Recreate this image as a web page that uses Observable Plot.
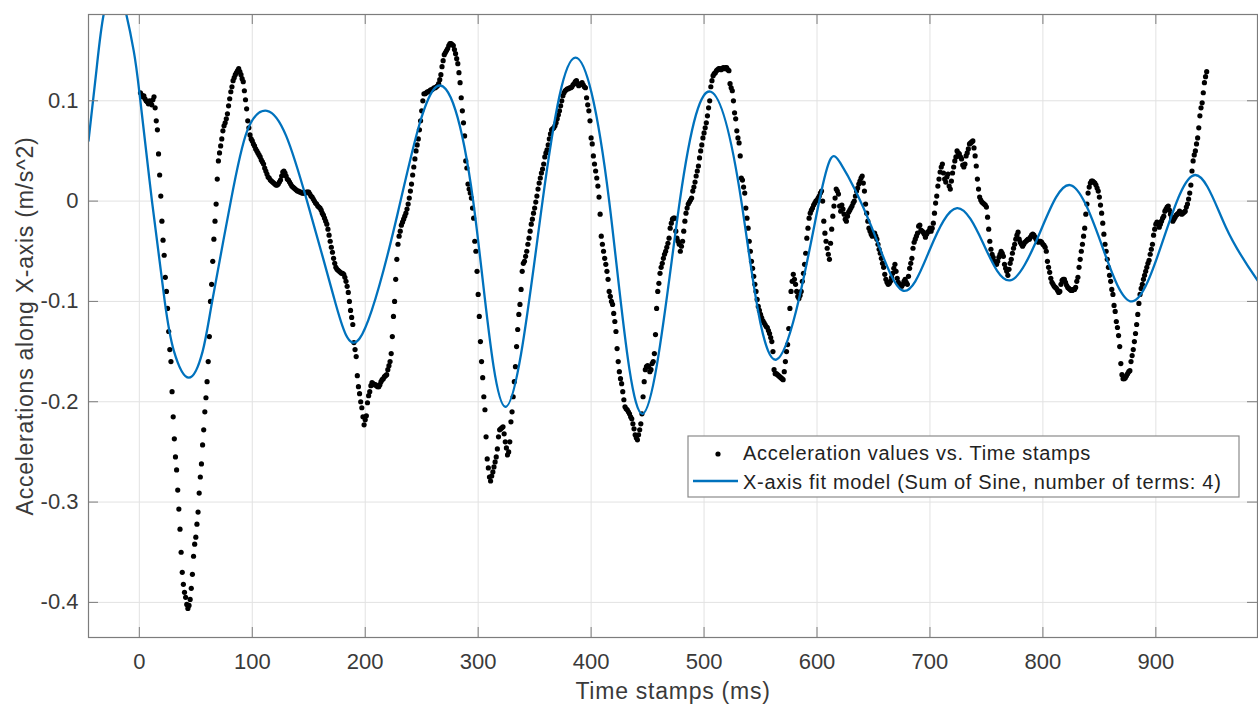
<!DOCTYPE html>
<html><head><meta charset="utf-8">
<script src="https://cdn.jsdelivr.net/npm/d3@7"></script>
<script src="https://cdn.jsdelivr.net/npm/@observablehq/plot@0.6"></script>
<style>body{margin:0;background:#fff;}#chart svg{display:block;}</style>
</head><body><div id="chart"></div>
<script>
// Sample grid: one accelerometer sample per millisecond, starting at t = 1 ms
const timeStart = 1;
const accel = [
.108,.106,.104,.105,.102,.100,.099,.097,.100,.098,
.096,.101,.104,.093,.080,.071,.047,.026,.005,-.020,
-.039,-.054,-.076,-.090,-.107,-.130,-.148,-.160,-.190,-.215,
-.237,-.255,-.268,-.288,-.307,-.327,-.350,-.370,-.382,-.390,
-.395,-.402,-.406,-.403,-.397,-.386,-.372,-.354,-.342,-.335,
-.322,-.310,-.291,-.275,-.262,-.243,-.228,-.210,-.196,-.180,
-.160,-.135,-.100,-.083,-.060,-.038,-.020,-.003,.022,.040,
.048,.055,.062,.070,.075,.078,.082,.087,.095,.102,
.109,.114,.120,.123,.126,.128,.130,.132,.129,.126,
.122,.119,.110,.101,.092,.080,.073,.066,.062,.060,
.057,.055,.052,.050,.048,.046,.044,.041,.039,.037,
.033,.030,.027,.024,.023,.021,.020,.019,.018,.017,
.016,.016,.017,.019,.021,.025,.029,.030,.028,.025,
.022,.021,.019,.017,.015,.014,.013,.012,.011,.010,
.010,.009,.009,.008,.008,.008,.008,.009,.009,.009,
.007,.005,.004,.002,.000,-.002,-.003,-.005,-.006,-.007,
-.009,-.012,-.014,-.017,-.020,-.023,-.028,-.034,-.040,-.046,
-.051,-.057,-.062,-.066,-.068,-.069,-.070,-.071,-.072,-.072,
-.073,-.076,-.080,-.085,-.091,-.100,-.109,-.116,-.123,-.141,
-.148,-.155,-.174,-.185,-.192,-.200,-.206,-.215,-.223,-.218,
-.214,-.201,-.194,-.190,-.184,-.181,-.182,-.183,-.183,-.184,
-.185,-.185,-.183,-.180,-.178,-.177,-.175,-.174,-.173,-.168,
-.164,-.160,-.152,-.135,-.115,-.100,-.078,-.058,-.043,-.035,
-.030,-.024,-.021,-.018,-.015,-.012,-.008,-.003,.003,.010,
.017,.026,.034,.042,.050,.056,.062,.071,.080,.090,
.100,.107,.107,.108,.109,.109,.110,.111,.111,.112,
.113,.113,.114,.115,.117,.121,.126,.134,.140,.146,
.148,.150,.152,.155,.157,.157,.156,.155,.151,.147,
.142,.137,.128,.118,.103,.090,.078,.065,.040,.033,
.017,.012,.008,.003,-.007,-.017,-.040,-.050,-.070,-.093,
-.115,-.140,-.160,-.176,-.195,-.208,-.235,-.257,-.266,-.275,
-.279,-.274,-.270,-.265,-.260,-.255,-.247,-.235,-.228,-.227,
-.226,-.225,-.232,-.240,-.246,-.253,-.250,-.240,-.220,-.210,
-.195,-.180,-.165,-.145,-.128,-.113,-.103,-.088,-.070,-.062,
-.060,-.055,-.050,-.043,-.037,-.030,-.023,-.018,-.012,-.007,
-.001,.005,.012,.018,.023,.028,.032,.037,.044,.048,
.051,.056,.062,.067,.071,.072,.073,.075,.078,.082,
.086,.090,.095,.100,.105,.108,.110,.111,.112,.112,
.113,.113,.114,.116,.117,.119,.120,.117,.115,.116,
.117,.118,.116,.114,.113,.103,.096,.090,.080,.063,
.057,.045,.037,.030,.023,.015,.004,-.013,-.035,-.043,
-.050,-.057,-.063,-.070,-.078,-.090,-.095,-.100,-.103,-.112,
-.120,-.130,-.147,-.160,-.170,-.177,-.182,-.190,-.198,-.205,
-.207,-.208,-.210,-.212,-.215,-.217,-.222,-.227,-.233,-.236,
-.238,-.233,-.228,-.222,-.212,-.195,-.180,-.168,-.165,-.164,
-.165,-.170,-.168,-.162,-.160,-.152,-.133,-.107,-.090,-.082,
-.072,-.066,-.062,-.057,-.053,-.050,-.046,-.042,-.037,-.027,
-.022,-.018,-.017,-.017,-.030,-.037,-.040,-.043,-.050,-.045,
-.040,-.030,-.020,-.012,-.007,-.003,-.001,.001,.003,.010,
.014,.019,.025,.030,.035,.043,.050,.056,.063,.068,
.073,.078,.085,.093,.100,.114,.120,.125,.127,.128,
.130,.131,.132,.132,.131,.132,.133,.132,.133,.133,
.131,.130,.117,.113,.110,.100,.088,.082,.070,.063,
.058,.045,.023,.021,.014,.008,-.007,-.017,-.027,-.040,
-.050,-.060,-.067,-.075,-.083,-.090,-.098,-.105,-.109,-.113,
-.116,-.119,-.121,-.123,-.125,-.126,-.129,-.132,-.136,-.140,
-.150,-.168,-.172,-.172,-.173,-.174,-.175,-.176,-.177,-.178,
-.170,-.160,-.150,-.143,-.127,-.107,-.090,-.080,-.073,-.078,
-.083,-.090,-.095,-.097,-.094,-.090,-.080,-.072,-.063,-.052,
-.037,-.027,-.017,-.012,-.009,-.007,-.004,-.002,.000,.001,
.003,.005,.008,.010,.000,-.020,-.032,-.040,-.047,-.053,
-.058,-.042,-.028,-.015,-.005,.003,.012,.010,.007,-.005,
-.010,-.004,-.008,-.013,-.018,-.020,-.015,-.011,-.009,-.007,
-.005,-.002,.000,.005,.010,.013,.017,.020,.023,.025,
.018,.010,-.003,-.012,-.020,-.027,-.030,-.033,-.035,-.034,
-.032,-.035,-.038,-.043,-.048,-.052,-.057,-.062,-.066,-.073,
-.078,-.081,-.083,-.082,-.080,-.076,-.072,-.067,-.063,-.070,
-.077,-.081,-.083,-.084,-.085,-.083,-.080,-.078,-.081,-.083,
-.075,-.067,-.062,-.057,-.047,-.041,-.038,-.035,-.032,-.025,
-.024,-.029,-.030,-.031,-.033,-.036,-.033,-.031,-.030,-.027,
-.030,-.027,-.022,-.012,-.002,.005,.015,.022,.029,.034,
.037,.028,.022,.019,.024,.027,.015,.012,.020,.028,
.034,.040,.044,.050,.048,.047,.044,.042,.036,.034,
.037,.045,.048,.052,.057,.058,.059,.060,.053,.045,
.035,.022,.012,.004,.001,-.001,-.002,-.003,-.004,-.006,
-.016,-.028,-.040,-.048,-.053,-.056,-.060,-.061,-.063,-.060,
-.056,-.053,-.050,-.052,-.055,-.063,-.067,-.070,-.074,-.068,
-.062,-.058,-.052,-.047,-.043,-.038,-.034,-.031,-.038,-.041,
-.043,-.045,-.043,-.041,-.040,-.039,-.038,-.038,-.036,-.034,
-.033,-.034,-.036,-.038,-.040,-.041,-.040,-.040,-.041,-.043,
-.044,-.046,-.050,-.060,-.066,-.071,-.077,-.081,-.083,-.085,
-.086,-.087,-.089,-.091,-.090,-.083,-.079,-.078,-.078,-.081,
-.084,-.086,-.087,-.088,-.089,-.089,-.088,-.088,-.086,-.080,
-.076,-.066,-.058,-.050,-.043,-.035,-.027,-.013,-.003,.008,
.014,.018,.020,.020,.019,.018,.016,.013,.010,.004,
-.004,-.012,-.022,-.033,-.043,-.050,-.058,-.066,-.074,-.080,
-.088,-.093,-.104,-.110,-.120,-.126,-.134,-.145,-.162,-.173,
-.177,-.177,-.176,-.174,-.172,-.170,-.169,-.160,-.154,-.148,
-.140,-.132,-.123,-.113,-.102,-.093,-.087,-.083,-.078,-.074,
-.070,-.066,-.062,-.059,-.053,-.048,-.043,-.034,-.028,-.023,
-.021,-.022,-.026,-.023,-.020,-.017,-.015,-.010,-.008,-.006,
-.005,-.009,-.013,-.017,-.020,-.018,-.016,-.014,-.013,-.012,
-.010,-.012,-.013,-.012,-.011,-.010,-.006,-.003,.002,.008,
.016,.030,.040,.046,.050,.057,.063,.073,.085,.093,
.098,.108,.118,.124,.129
];
const timeStamps = accel.map((_, i) => timeStart + i);

// Fit model curve (peaks, troughs, crossings)
const fitTime = [-45,-38,-31.6,-21.5,-11.5,-5,0,11.2,22.5,30.5,43.8,56,64.5,81,95.5,113,130,148.5,172,195,229,263,295.6,324,357,386,416,445.6,478.5,506,533,564,602,620.6,648,675.6,700,724,747.5,771,797.5,824,851.5,879,907,934.7,962,990];
const fitAccel = [0.06,0.13,0.186,0.215,0.186,0.15,0.109,0,-0.1,-0.149,-0.176,-0.15,-0.1,0,0.07,0.09,0.065,0,-0.095,-0.137,-0.011,0.114,0,-0.205,0,0.143,0,-0.212,0,0.109,0,-0.158,0,0.038,-0.025,-0.089,-0.048,-0.007,-0.043,-0.079,-0.031,0.016,-0.042,-0.1,-0.037,0.026,-0.026,-0.079];

const xTicks = [0,100,200,300,400,500,600,700,800,900];
const yTicks = [-0.4,-0.3,-0.2,-0.1,0,0.1];
const legendLabels = ["Acceleration values vs. Time stamps", "X-axis fit model (Sum of Sine, number of terms: 4)"];
const xLabel = "Time stamps (ms)";
const yLabel = "Accelerations along X-axis (m/s^2)";

const W = 1258, H = 704, mL = 88, mT = 14, mR = 1, mB = 67;
const fw = W - mL - mR, fh = H - mT - mB;
const FONT = "'Liberation Sans', Arial, Helvetica, sans-serif";
const AX = "#7c7c7c", TXT = "#3a3a3a", BLUE = "#0072BD";

const points = timeStamps.map((t, i) => ({t, a: accel[i]}));
const fit = fitTime.map((t, i) => ({t, a: fitAccel[i]}));

const chart = Plot.plot({
  width: W, height: H,
  marginLeft: mL, marginTop: mT, marginRight: mR, marginBottom: mB,
  style: {fontFamily: FONT, background: "#fff", overflow: "visible"},
  x: {domain: [-45, 990]},
  y: {domain: [-0.435, 0.186]},
  marks: [
    Plot.gridX(xTicks, {stroke: "#e2e2e2", strokeOpacity: 1}),
    Plot.gridY(yTicks, {stroke: "#e2e2e2", strokeOpacity: 1}),
    Plot.dot(points, {x: "t", y: "a", r: 2.6, fill: "#000", stroke: null}),
    Plot.line(fit, {x: "t", y: "a", stroke: BLUE, strokeWidth: 2.3, curve: "natural", clip: true}),
    Plot.frame({stroke: AX, strokeWidth: 1.2}),
    Plot.tickX(xTicks, {x: d => d, insetTop: fh - 10, stroke: AX}),
    Plot.tickX(xTicks, {x: d => d, insetBottom: fh - 10, stroke: AX}),
    Plot.tickY(yTicks, {y: d => d, insetRight: fw - 10, stroke: AX}),
    Plot.tickY(yTicks, {y: d => d, insetLeft: fw - 10, stroke: AX}),
    Plot.axisX({ticks: xTicks, tickSize: 0, tickPadding: 16, fontSize: 22, color: TXT, label: null, tickFormat: d => String(d)}),
    Plot.axisY({ticks: yTicks, tickSize: 0, tickPadding: 10, fontSize: 22, color: TXT, label: null, tickFormat: d => String(d)}),
    Plot.text([xLabel], {text: d => d, frameAnchor: "bottom", dy: 54, textAnchor: "middle", lineAnchor: "middle", fontSize: 23, fill: TXT}),
    Plot.text([yLabel], {text: d => d, frameAnchor: "left", dx: -63, rotate: -90, textAnchor: "middle", lineAnchor: "middle", fontSize: 23, fill: TXT})
  ]
});
document.getElementById("chart").appendChild(chart);

const svg = d3.select(chart);
svg.selectAll("text").filter(function () {
  return this.textContent === xLabel || this.textContent === yLabel;
}).attr("letter-spacing", "0.75px");

// Legend (inside the axes, like the original)
const lg = svg.append("g").attr("font-family", FONT).attr("text-anchor", "start");
lg.append("rect").attr("x", 688).attr("y", 436).attr("width", 551).attr("height", 61)
  .attr("fill", "#fff").attr("stroke", "#8a8a8a").attr("stroke-width", 1.2);
lg.append("circle").attr("cx", 718).attr("cy", 454).attr("r", 2.6).attr("fill", "#000");
lg.append("line").attr("x1", 693).attr("x2", 738).attr("y1", 481).attr("y2", 481)
  .attr("stroke", BLUE).attr("stroke-width", 2.3);
legendLabels.forEach((s, i) => {
  lg.append("text").attr("x", 743).attr("y", 460 + i * 28.5).attr("font-size", 20)
    .attr("text-anchor", "start").attr("letter-spacing", "0.7px").attr("fill", "#222").text(s);
});
</script>
</body></html>
